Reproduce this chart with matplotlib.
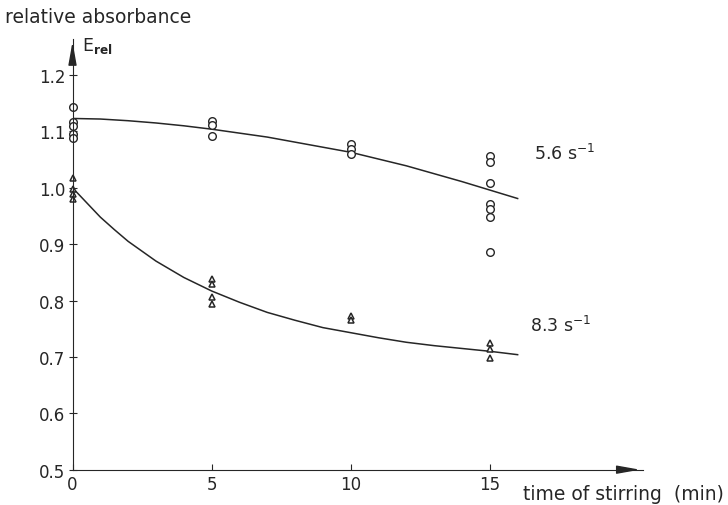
import matplotlib.pyplot as plt

# time of stirring (min) and relative absorbance, 5.6 s^-1 (circles)
t_56 = [0, 0, 0, 0, 0, 5, 5, 5, 10, 10, 10, 15, 15, 15, 15, 15, 15, 15]
e_56 = [1.143, 1.116, 1.110, 1.095, 1.088, 1.119, 1.111, 1.092,
        1.077, 1.069, 1.060, 1.057, 1.046, 1.008, 0.972, 0.963, 0.949, 0.887]

# 8.3 s^-1 (triangles)
t_83 = [0, 0, 0, 0, 5, 5, 5, 5, 10, 10, 15, 15, 15]
e_83 = [1.018, 0.998, 0.989, 0.980, 0.838, 0.829, 0.806, 0.794,
        0.772, 0.766, 0.725, 0.714, 0.698]

# fitted curves
fit_t56 = [0, 1, 2, 3, 4, 5, 6, 7, 8, 9, 10, 11, 12, 13, 14, 15, 16]
fit_56 = [1.123, 1.122, 1.119, 1.115, 1.110, 1.104, 1.097, 1.090, 1.081,
          1.072, 1.063, 1.051, 1.039, 1.025, 1.011, 0.996, 0.981]
fit_t83 = [0, 0.5, 1, 1.5, 2, 3, 4, 5, 6, 7, 8, 9, 10, 11, 12, 13, 14, 15, 16]
fit_83 = [1.0, 0.974, 0.948, 0.926, 0.905, 0.870, 0.841, 0.817, 0.797, 0.779,
          0.765, 0.752, 0.743, 0.734, 0.726, 0.720, 0.715, 0.710, 0.704]

xticks = [0, 5, 10, 15]
yticks = [0.5, 0.6, 0.7, 0.8, 0.9, 1.0, 1.1, 1.2]

fig = plt.figure(figsize=(7.28, 5.06), dpi=100)
ax = fig.add_axes([0.0996, 0.0698, 0.7834, 0.8512])

ink = '#262626'
ax.plot(fit_t56, fit_56, color=ink, lw=1.1)
ax.plot(fit_t83, fit_83, color=ink, lw=1.1)
ax.plot(t_56, e_56, 'o', ms=5.5, mfc='white', mec=ink, mew=1.0, clip_on=False)
ax.plot(t_83, e_83, '^', ms=5, mfc='white', mec=ink, mew=1.1, clip_on=False)

ax.set_xlim(0, 20.5)
ax.set_ylim(0.5, 1.264)
for s in ['top', 'right']:
    ax.spines[s].set_visible(False)
ax.spines['left'].set_color(ink)
ax.spines['bottom'].set_color(ink)

# arrow heads on the axes
ax.annotate('', xy=(1.0, 0), xytext=(0.95, 0), xycoords='axes fraction',
            arrowprops=dict(arrowstyle='-|>,head_length=1.4,head_width=0.25',
                            color=ink, lw=1.0))
ax.annotate('', xy=(0, 1.0), xytext=(0, 0.95), xycoords='axes fraction',
            arrowprops=dict(arrowstyle='-|>,head_length=1.4,head_width=0.25',
                            color=ink, lw=1.0))

ax.set_xticks(xticks)
ax.set_xticklabels([str(v) for v in xticks])
ax.set_yticks(yticks)
ax.set_yticklabels([f'{v:.1f}' for v in yticks])
ax.tick_params(axis='x', direction='in', length=4, labelsize=12, pad=4, color=ink,
               labelcolor=ink)
ax.tick_params(axis='y', direction='inout', length=6, labelsize=12, pad=2, color=ink,
               labelcolor=ink)

ax.text(16.6, 1.062, '5.6 s$^{-1}$', fontsize=12.5, va='center', ha='left', color=ink)
ax.text(16.45, 0.757, '8.3 s$^{-1}$', fontsize=12.5, va='center', ha='left', color=ink)

fig.text(0.007, 0.965, 'relative absorbance', fontsize=13.5, ha='left', va='center',
         color=ink)
fig.text(0.113, 0.91, 'E$_{\\mathbf{rel}}$', fontsize=12.5, ha='left', va='center',
         color=ink)
fig.text(0.718, 0.022, 'time of stirring  (min)', fontsize=13.5, ha='left', va='center',
         color=ink)

fig.savefig('out.png', dpi=100)
